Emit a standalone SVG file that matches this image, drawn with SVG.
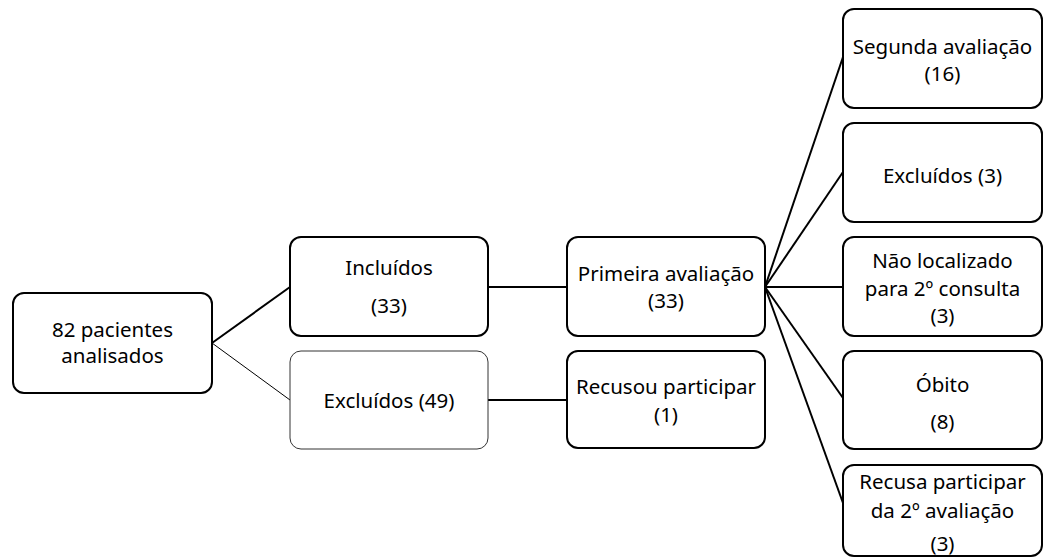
<svg xmlns="http://www.w3.org/2000/svg" width="1044" height="558" viewBox="0 0 1044 558">
<style>
.box{fill:#fff;stroke:#000;stroke-width:2}
.thin{fill:#fff;stroke:#333;stroke-width:1}
.ln{stroke:#000;stroke-width:2;fill:none}
.lt{stroke:#000;stroke-width:1;fill:none}
text{font-family:"Noto Sans","Open Sans",sans-serif;font-size:20.5px;fill:#000;text-anchor:middle}
</style>
<rect width="1044" height="558" fill="#fff"/>
<g id="connectors">
<line class="ln" x1="212" y1="343" x2="290" y2="287"/>
<line class="lt" x1="212" y1="343" x2="290" y2="400"/>
<line class="ln" x1="488" y1="287" x2="567" y2="287"/>
<line class="ln" x1="488" y1="400" x2="567" y2="400"/>
<line class="ln" x1="765" y1="287" x2="843" y2="57"/>
<line class="ln" x1="765" y1="287" x2="843" y2="172"/>
<line class="ln" x1="765" y1="287" x2="843" y2="287"/>
<line class="ln" x1="765" y1="287" x2="843" y2="398"/>
<line class="ln" x1="765" y1="287" x2="843" y2="503"/>
</g>
<g id="n-pacientes"><rect class="box" x="13" y="293" width="199" height="100" rx="11"/><text x="112.5" y="337">82 pacientes</text><text x="112.5" y="363">analisados</text></g>
<g id="n-incluidos"><rect class="box" x="290" y="237" width="198" height="99" rx="11"/><text x="389" y="275">Incluídos</text><text x="389" y="313">(33)</text></g>
<g id="n-excluidos49"><rect class="thin" x="290" y="351" width="198" height="98" rx="11"/><text x="389" y="408">Excluídos (49)</text></g>
<g id="n-primeira"><rect class="box" x="567" y="237" width="198" height="99" rx="11"/><text x="666" y="281">Primeira avaliação</text><text x="666" y="308">(33)</text></g>
<g id="n-recusou"><rect class="box" x="567" y="351" width="198" height="97" rx="11"/><text x="666" y="394">Recusou participar</text><text x="666" y="422">(1)</text></g>
<g id="n-segunda"><rect class="box" x="843" y="9" width="199" height="99" rx="11"/><text x="942.5" y="54">Segunda avaliação</text><text x="942.5" y="81">(16)</text></g>
<g id="n-excluidos3"><rect class="box" x="843" y="123" width="199" height="99" rx="11"/><text x="942.5" y="183">Excluídos (3)</text></g>
<g id="n-naoloc"><rect class="box" x="843" y="237" width="199" height="99" rx="11"/><text x="942.5" y="268">Não localizado</text><text x="942.5" y="296">para 2º consulta</text><text x="942.5" y="323">(3)</text></g>
<g id="n-obito"><rect class="box" x="843" y="351" width="199" height="98" rx="11"/><text x="942.5" y="392">Óbito</text><text x="942.5" y="429">(8)</text></g>
<g id="n-recusa2"><rect class="box" x="843" y="465" width="199" height="91" rx="11"/><text x="942.5" y="489">Recusa participar</text><text x="942.5" y="518">da 2º avaliação</text><text x="942.5" y="551">(3)</text></g>
</svg>
